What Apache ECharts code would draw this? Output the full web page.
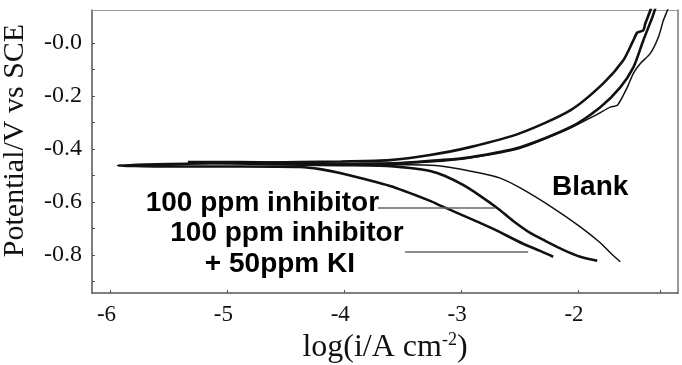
<!DOCTYPE html>
<html>
<head>
<meta charset="utf-8">
<script src="https://cdn.jsdelivr.net/npm/echarts@6/dist/echarts.min.js"></script>
<style>
html, body { margin: 0; padding: 0; background: #fff; }
#chart { width: 682px; height: 365px; }
</style>
</head>
<body>
<div id="chart"></div>
<script>
// tick values
var xLabelValues = [-6, -5, -4, -3, -2];
var xTickValues = [-6, -5, -4, -3, -2, -1.3];
var yLabelValues = [-0.8, -0.6, -0.4, -0.2, 0];
var yTickValues = [-0.9, -0.8, -0.7, -0.6, -0.5, -0.4, -0.3, -0.2, -0.1, 0];

// polarization curves: [log(i), E]  (cathodic end -> Ecorr -> anodic)
var inhibitorKI = [
  [-2.212, -0.807], [-2.323, -0.785], [-2.469, -0.758], [-2.743, -0.698], [-3.171, -0.615],
  [-3.265, -0.596], [-3.608, -0.540], [-4.036, -0.491], [-4.207, -0.476], [-4.379, -0.468],
  [-4.893, -0.466], [-5.578, -0.466], [-5.937, -0.462], [-5.500, -0.457], [-4.893, -0.453],
  [-4.379, -0.449], [-4.028, -0.447], [-3.608, -0.442], [-3.265, -0.423], [-2.923, -0.393],
  [-2.494, -0.340], [-2.066, -0.254], [-1.783, -0.152], [-1.612, -0.065], [-1.526, 0.010],
  [-1.492, 0.040], [-1.441, 0.048], [-1.424, 0.074], [-1.381, 0.123], [-1.364, 0.150]
];
var inhibitor = [
  [-1.835, -0.822], [-1.980, -0.807], [-2.126, -0.781], [-2.280, -0.747], [-2.409, -0.717],
  [-2.554, -0.672], [-2.691, -0.623], [-2.837, -0.577], [-2.983, -0.536], [-3.137, -0.502],
  [-3.265, -0.483], [-3.436, -0.472], [-3.693, -0.463], [-4.036, -0.461], [-4.721, -0.457],
  [-5.338, -0.449], [-4.893, -0.449], [-4.379, -0.453], [-4.028, -0.457], [-3.522, -0.453],
  [-3.171, -0.442], [-2.923, -0.431], [-2.494, -0.393], [-2.066, -0.318], [-1.809, -0.242],
  [-1.638, -0.167], [-1.526, -0.092], [-1.441, 0.010], [-1.364, 0.097], [-1.338, 0.131],
  [-1.321, 0.153]
];
var blank = [
  [-1.638, -0.826], [-1.723, -0.792], [-1.809, -0.754], [-1.980, -0.694], [-2.212, -0.623],
  [-2.494, -0.547], [-2.666, -0.510], [-2.837, -0.491], [-3.180, -0.464], [-3.693, -0.459],
  [-4.379, -0.459], [-4.807, -0.457], [-4.207, -0.455], [-3.522, -0.453], [-3.171, -0.446],
  [-2.923, -0.434], [-2.494, -0.397], [-2.066, -0.321], [-1.835, -0.269], [-1.723, -0.242],
  [-1.663, -0.235], [-1.578, -0.167], [-1.526, -0.114], [-1.466, -0.077], [-1.381, -0.039],
  [-1.312, 0.022], [-1.269, 0.086], [-1.235, 0.123], [-1.218, 0.150]
];

// annotations
var annotations = [
  { name: '100 ppm inhibitor', value: [-4.70, -0.604] },
  { name: '100 ppm inhibitor', value: [-4.49, -0.717] },
  { name: '+ 50ppm KI', value: [-4.55, -0.837] },
  { name: 'Blank', value: [-1.895, -0.543] }
];
var leaders = [
  [[-3.711, -0.6225], [-2.709, -0.6225]],
  [[-3.479, -0.788], [-2.426, -0.788]]
];

var chart = echarts.init(document.getElementById('chart'));
var serif = 'Liberation Serif';
var sans = 'Liberation Sans';
var xMin = -6.158, xMax = -1.144, yMin = -0.944, yMax = 0.125;

function curve(name, data, width) {
  return {
    name: name,
    type: 'line',
    data: data,
    showSymbol: false,
    smooth: 0.25,
    clip: true,
    lineStyle: { color: '#111', width: width },
    z: 3
  };
}

var option = {
  animation: false,
  backgroundColor: '#fff',
  grid: {
    left: 92, right: 4, top: 10, bottom: 72,
    outerBoundsMode: 'none',
    containLabel: false
  },
  xAxis: [{
    type: 'value',
    min: xMin,
    max: xMax,
    name: '{a|log(i/A cm}{s|-2}{a|)}',
    nameLocation: 'middle',
    nameGap: 37,
    nameTextStyle: {
      rich: {
        a: { fontFamily: serif, fontSize: 32, color: '#111', lineHeight: 34 },
        s: { fontFamily: serif, fontSize: 18, color: '#111', verticalAlign: 'top', lineHeight: 20 }
      }
    },
    axisLine: { show: true, onZero: false, lineStyle: { color: '#555', width: 1.5 } },
    axisTick: { show: true, inside: true, length: 3, customValues: xTickValues, lineStyle: { color: '#555' } },
    axisLabel: {
      customValues: xLabelValues,
      fontFamily: serif, fontSize: 23, color: '#111', margin: 10,
      padding: [0, 8, 0, 0],
      formatter: function (v) { return String(v); }
    },
    splitLine: { show: false }
  }, {
    type: 'value',
    position: 'top',
    min: xMin,
    max: xMax,
    axisLine: { show: true, onZero: false, lineStyle: { color: '#999', width: 1 } },
    axisTick: { show: false },
    axisLabel: { show: false },
    splitLine: { show: false }
  }],
  yAxis: [{
    type: 'value',
    min: yMin,
    max: yMax,
    name: 'Potential/V vs SCE',
    nameLocation: 'middle',
    nameRotate: 90,
    nameGap: 62,
    nameTextStyle: { fontFamily: serif, fontSize: 30, color: '#111', padding: [0, 0, 0, 22] },
    axisLine: { show: true, onZero: false, lineStyle: { color: '#555', width: 1.5 } },
    axisTick: { show: true, inside: true, length: 3, customValues: yTickValues, lineStyle: { color: '#555' } },
    axisLabel: {
      customValues: yLabelValues,
      fontFamily: serif, fontSize: 24, color: '#111', margin: 10,
      formatter: function (v) { return '-' + Math.abs(v).toFixed(1); }
    },
    splitLine: { show: false }
  }, {
    type: 'value',
    position: 'right',
    min: yMin,
    max: yMax,
    axisLine: { show: true, onZero: false, lineStyle: { color: '#777', width: 1.5 } },
    axisTick: { show: false },
    axisLabel: { show: false },
    splitLine: { show: false }
  }],
  series: [
    curve('Blank', blank, 1.5),
    curve('100 ppm inhibitor', inhibitor, 2.6),
    curve('100 ppm inhibitor + 50ppm KI', inhibitorKI, 2.6),
    {
      name: 'labels',
      type: 'scatter',
      data: annotations,
      symbolSize: 0,
      silent: true,
      itemStyle: { opacity: 1 },
      label: {
        show: true,
        position: 'inside',
        formatter: '{b}',
        fontFamily: sans,
        fontWeight: 'bold',
        fontSize: 28,
        color: '#000',
        opacity: 1,
        textBorderWidth: 0
      },
      markLine: {
        symbol: 'none',
        silent: true,
        label: { show: false },
        lineStyle: { color: '#666', width: 1.5, type: 'solid', opacity: 1 },
        data: leaders.map(function (l) { return [{ coord: l[0] }, { coord: l[1] }]; })
      },
      z: 4
    }
  ]
};
chart.setOption(option);
</script>
</body>
</html>
